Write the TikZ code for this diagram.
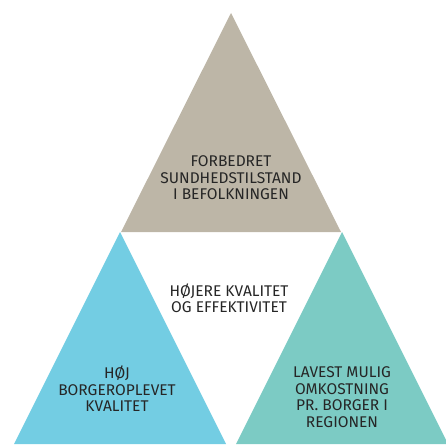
\documentclass[tikz,border=0pt]{standalone}
\usepackage{fontspec}
\setmainfont{Fira Sans}
\usepackage{xcolor}
\usetikzlibrary{positioning}
\definecolor{sand}{HTML}{BDB6A7}
\definecolor{skyblue}{HTML}{73CDE3}
\definecolor{seagreen}{HTML}{7CCBC4}
\definecolor{textgray}{HTML}{262626}

\begin{document}
\begin{tikzpicture}[
    x=1pt, y=-1pt,
    trifill/.style={draw=none},
    txt/.style={align=center, font=\fontsize{15.5}{16.5}\selectfont, text=textgray, inner sep=0pt},
]
    \useasboundingbox (0,0) rectangle (446,444);

    % Top triangle
    \fill[trifill, sand] (231,13) -- (341,232) -- (121,232) -- cycle;
    % Bottom left triangle
    \fill[trifill, skyblue] (120,232) -- (226,444) -- (14,444) -- cycle;
    % Bottom right triangle
    \fill[trifill, seagreen] (342,232) -- (448,444) -- (236,444) -- cycle;

    % Texts
    \node[txt] (health) at (231,178) {FORBEDRET\\SUNDHEDSTILSTAND\\I BEFOLKNINGEN};
    \node[txt] (quality) at (117,389) {HØJ\\BORGEROPLEVET\\KVALITET};
    \node[txt] (cost) at (342,397) {LAVEST MULIG\\OMKOSTNING\\PR. BORGER I\\REGIONEN};
    \node[txt] (center) at (229,298) {HØJERE KVALITET\\OG EFFEKTIVITET};
\end{tikzpicture}
\end{document}
